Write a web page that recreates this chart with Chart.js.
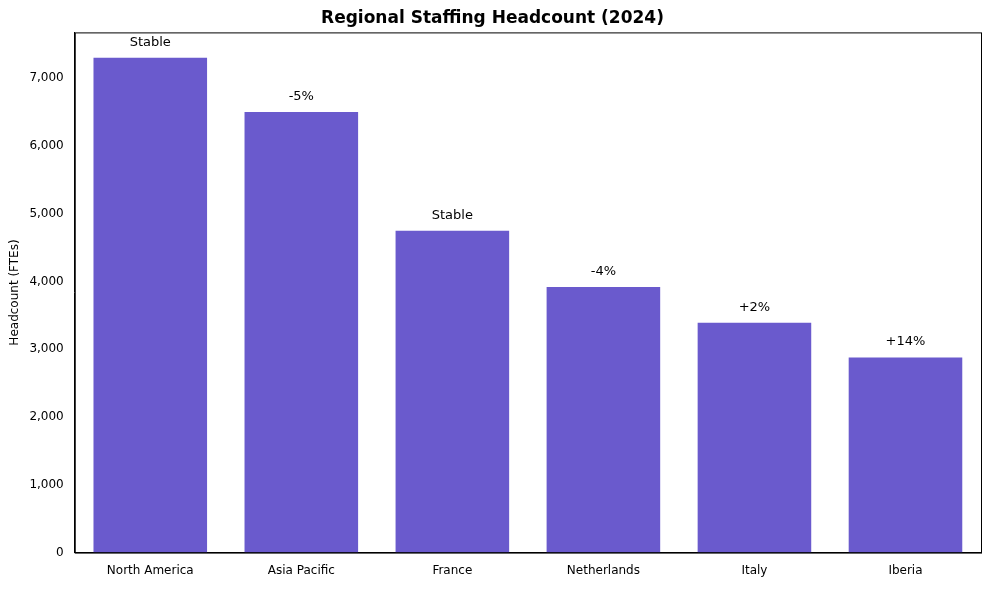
<!DOCTYPE html>
<html>
<head>
<meta charset="utf-8">
<script src="https://cdn.jsdelivr.net/npm/chart.js@4"></script>
<style>
  body { margin: 0; background: #fff; }
  #wrap { width: 989px; height: 589px; }
</style>
</head>
<body>
<div id="wrap"><canvas id="chart"></canvas></div>
<script>
// Chart data
const regions = ['North America', 'Asia Pacific', 'France', 'Netherlands', 'Italy', 'Iberia'];
const headcount = [7300, 6500, 4750, 3920, 3390, 2880];
const changeLabels = ['Stable', '-5%', 'Stable', '-4%', '+2%', '+14%'];
const yTicks = [0, 1000, 2000, 3000, 4000, 5000, 6000, 7000];

// Draw the change text above each bar
const barLabels = {
    id: 'barLabels',
    afterDatasetsDraw(chart) {
        const ctx = chart.ctx;
        const meta = chart.getDatasetMeta(0);
        ctx.save();
        ctx.font = '13px "DejaVu Sans"';
        ctx.fillStyle = '#000';
        ctx.textAlign = 'center';
        ctx.textBaseline = 'bottom';
        meta.data.forEach((bar, i) => {
            ctx.fillText(changeLabels[i], bar.x, bar.y - 9);
        });
        ctx.restore();
    }
};

// Black frame around the plot area
const frame = {
    id: 'frame',
    afterDraw(chart) {
        const { ctx, chartArea: a } = chart;
        ctx.save();
        ctx.strokeStyle = '#000';
        ctx.lineWidth = 1;
        ctx.strokeRect(a.left + 0.5, a.top + 0.5, a.right - a.left, a.bottom - a.top);
        ctx.restore();
    }
};

new Chart(document.getElementById('chart'), {
    type: 'bar',
    data: {
        labels: regions,
        datasets: [{
            data: headcount,
            backgroundColor: '#6a5acd',
            barPercentage: 0.8,
            categoryPercentage: 0.94
        }]
    },
    options: {
        responsive: true,
        maintainAspectRatio: false,
        animation: false,
        layout: { padding: { left: 4, right: 8, top: 0, bottom: 8 } },
        plugins: {
            legend: { display: false },
            tooltip: { enabled: false },
            title: {
                display: true,
                text: 'Regional Staffing Headcount (2024)',
                color: '#000',
                font: { family: 'DejaVu Sans', size: 17, weight: 'bold' },
                padding: { top: 8, bottom: 4 }
            }
        },
        scales: {
            x: {
                grid: { display: false, drawTicks: true },
                border: { color: '#000' },
                ticks: { color: '#000', font: { family: 'DejaVu Sans', size: 12 } }
            },
            y: {
                min: 0,
                max: 7675,
                afterBuildTicks(axis) { axis.ticks = yTicks.map(v => ({ value: v })); },
                grid: { display: false, drawTicks: true },
                border: { color: '#000' },
                ticks: { color: '#000', font: { family: 'DejaVu Sans', size: 12 } },
                title: {
                    display: true,
                    text: 'Headcount (FTEs)',
                    color: '#000',
                    font: { family: 'DejaVu Sans', size: 12 }
                }
            }
        }
    },
    plugins: [barLabels, frame]
});
</script>
</body>
</html>
